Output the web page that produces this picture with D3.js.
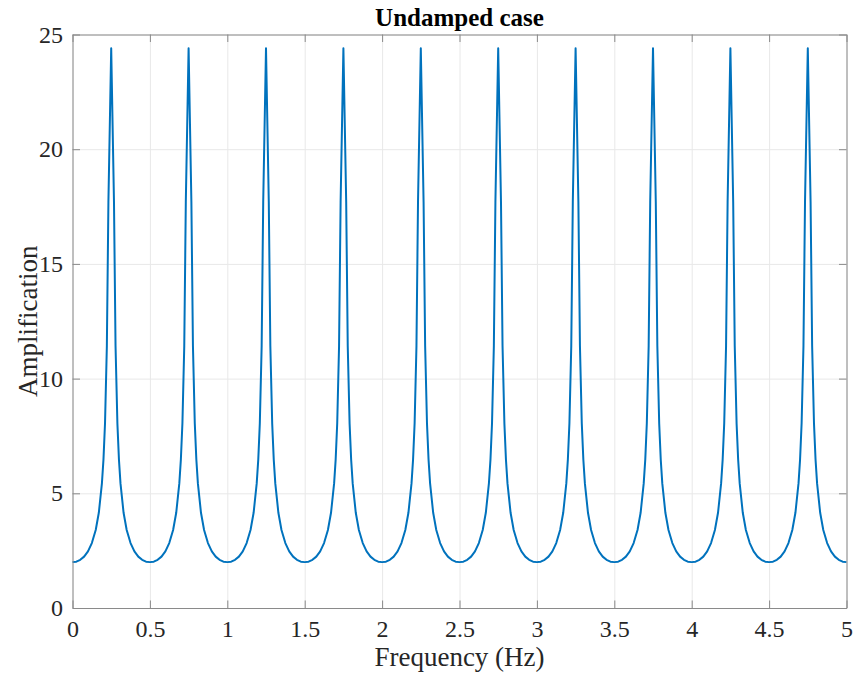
<!DOCTYPE html>
<html>
<head>
<meta charset="utf-8">
<script src="https://cdn.jsdelivr.net/npm/d3@7"></script>
<style>
  body { margin: 0; background: #fff; }
  svg { display: block; font-family: "Times New Roman", "Liberation Serif", serif; }
  .grid line { stroke: #e8e8e8; stroke-width: 1; }
  .grid path { display: none; }
  .axis path, .axis line { stroke: #8a8a8a; stroke-width: 1; }
  .axis text { fill: #262626; font-size: 24px; font-family: "Times New Roman", "Liberation Serif", serif; }
  .axis-label { fill: #262626; font-size: 27px; }
  .title { fill: #000; font-size: 25px; font-weight: bold; }
</style>
</head>
<body>
<svg id="chart"></svg>
<script>
// frequency samples (Hz)
const frequency = [
  0, 0.025, 0.05, 0.075, 0.1, 0.125, 0.15, 0.17, 0.19, 0.2, 0.21, 0.222, 0.232, 0.25, 0.268, 0.278, 0.29, 0.3, 0.31, 0.33, 0.35, 0.375, 0.4, 0.425, 0.45, 0.475,
  0.5, 0.525, 0.55, 0.575, 0.6, 0.625, 0.65, 0.67, 0.69, 0.7, 0.71, 0.722, 0.732, 0.75, 0.768, 0.778, 0.79, 0.8, 0.81, 0.83, 0.85, 0.875, 0.9, 0.925, 0.95, 0.975,
  1, 1.025, 1.05, 1.075, 1.1, 1.125, 1.15, 1.17, 1.19, 1.2, 1.21, 1.222, 1.232, 1.25, 1.268, 1.278, 1.29, 1.3, 1.31, 1.33, 1.35, 1.375, 1.4, 1.425, 1.45, 1.475,
  1.5, 1.525, 1.55, 1.575, 1.6, 1.625, 1.65, 1.67, 1.69, 1.7, 1.71, 1.722, 1.732, 1.75, 1.768, 1.778, 1.79, 1.8, 1.81, 1.83, 1.85, 1.875, 1.9, 1.925, 1.95, 1.975,
  2, 2.025, 2.05, 2.075, 2.1, 2.125, 2.15, 2.17, 2.19, 2.2, 2.21, 2.222, 2.232, 2.25, 2.268, 2.278, 2.29, 2.3, 2.31, 2.33, 2.35, 2.375, 2.4, 2.425, 2.45, 2.475,
  2.5, 2.525, 2.55, 2.575, 2.6, 2.625, 2.65, 2.67, 2.69, 2.7, 2.71, 2.722, 2.732, 2.75, 2.768, 2.778, 2.79, 2.8, 2.81, 2.83, 2.85, 2.875, 2.9, 2.925, 2.95, 2.975,
  3, 3.025, 3.05, 3.075, 3.1, 3.125, 3.15, 3.17, 3.19, 3.2, 3.21, 3.222, 3.232, 3.25, 3.268, 3.278, 3.29, 3.3, 3.31, 3.33, 3.35, 3.375, 3.4, 3.425, 3.45, 3.475,
  3.5, 3.525, 3.55, 3.575, 3.6, 3.625, 3.65, 3.67, 3.69, 3.7, 3.71, 3.722, 3.732, 3.75, 3.768, 3.778, 3.79, 3.8, 3.81, 3.83, 3.85, 3.875, 3.9, 3.925, 3.95, 3.975,
  4, 4.025, 4.05, 4.075, 4.1, 4.125, 4.15, 4.17, 4.19, 4.2, 4.21, 4.222, 4.232, 4.25, 4.268, 4.278, 4.29, 4.3, 4.31, 4.33, 4.35, 4.375, 4.4, 4.425, 4.45, 4.475,
  4.5, 4.525, 4.55, 4.575, 4.6, 4.625, 4.65, 4.67, 4.69, 4.7, 4.71, 4.722, 4.732, 4.75, 4.768, 4.778, 4.79, 4.8, 4.81, 4.83, 4.85, 4.875, 4.9, 4.925, 4.95, 4.975,
  5
];

// amplification at each frequency sample
const amplification = [
  2.00, 2.02, 2.10, 2.24, 2.47, 2.83, 3.40, 4.15, 5.43, 6.47, 8.04, 11.43, 17.7, 24.4, 17.7, 11.43, 8.04, 6.47, 5.43, 4.15, 3.40, 2.83, 2.47, 2.24, 2.10, 2.02,
  2.00, 2.02, 2.10, 2.24, 2.47, 2.83, 3.40, 4.15, 5.43, 6.47, 8.04, 11.43, 17.7, 24.4, 17.7, 11.43, 8.04, 6.47, 5.43, 4.15, 3.40, 2.83, 2.47, 2.24, 2.10, 2.02,
  2.00, 2.02, 2.10, 2.24, 2.47, 2.83, 3.40, 4.15, 5.43, 6.47, 8.04, 11.43, 17.7, 24.4, 17.7, 11.43, 8.04, 6.47, 5.43, 4.15, 3.40, 2.83, 2.47, 2.24, 2.10, 2.02,
  2.00, 2.02, 2.10, 2.24, 2.47, 2.83, 3.40, 4.15, 5.43, 6.47, 8.04, 11.43, 17.7, 24.4, 17.7, 11.43, 8.04, 6.47, 5.43, 4.15, 3.40, 2.83, 2.47, 2.24, 2.10, 2.02,
  2.00, 2.02, 2.10, 2.24, 2.47, 2.83, 3.40, 4.15, 5.43, 6.47, 8.04, 11.43, 17.7, 24.4, 17.7, 11.43, 8.04, 6.47, 5.43, 4.15, 3.40, 2.83, 2.47, 2.24, 2.10, 2.02,
  2.00, 2.02, 2.10, 2.24, 2.47, 2.83, 3.40, 4.15, 5.43, 6.47, 8.04, 11.43, 17.7, 24.4, 17.7, 11.43, 8.04, 6.47, 5.43, 4.15, 3.40, 2.83, 2.47, 2.24, 2.10, 2.02,
  2.00, 2.02, 2.10, 2.24, 2.47, 2.83, 3.40, 4.15, 5.43, 6.47, 8.04, 11.43, 17.7, 24.4, 17.7, 11.43, 8.04, 6.47, 5.43, 4.15, 3.40, 2.83, 2.47, 2.24, 2.10, 2.02,
  2.00, 2.02, 2.10, 2.24, 2.47, 2.83, 3.40, 4.15, 5.43, 6.47, 8.04, 11.43, 17.7, 24.4, 17.7, 11.43, 8.04, 6.47, 5.43, 4.15, 3.40, 2.83, 2.47, 2.24, 2.10, 2.02,
  2.00, 2.02, 2.10, 2.24, 2.47, 2.83, 3.40, 4.15, 5.43, 6.47, 8.04, 11.43, 17.7, 24.4, 17.7, 11.43, 8.04, 6.47, 5.43, 4.15, 3.40, 2.83, 2.47, 2.24, 2.10, 2.02,
  2.00, 2.02, 2.10, 2.24, 2.47, 2.83, 3.40, 4.15, 5.43, 6.47, 8.04, 11.43, 17.7, 24.4, 17.7, 11.43, 8.04, 6.47, 5.43, 4.15, 3.40, 2.83, 2.47, 2.24, 2.10, 2.02,
  2.00
];

const xTicks = [0, 0.5, 1, 1.5, 2, 2.5, 3, 3.5, 4, 4.5, 5];
const yTicks = [0, 5, 10, 15, 20, 25];

const containerWidth = 855, containerHeight = 679;
const margin = { top: 34.5, right: 8.5, bottom: 71, left: 72.5 };
const width = containerWidth - margin.left - margin.right;
const height = containerHeight - margin.top - margin.bottom;

const svg = d3.select('#chart')
    .attr('width', containerWidth)
    .attr('height', containerHeight);

const chart = svg.append('g')
    .attr('transform', `translate(${margin.left},${margin.top})`);

const xScale = d3.scaleLinear().domain([0, 5]).range([0, width]);
const yScale = d3.scaleLinear().domain([0, 25]).range([height, 0]);

// grid
chart.append('g')
    .attr('class', 'grid')
    .attr('transform', `translate(0,${height})`)
    .call(d3.axisBottom(xScale).tickValues(xTicks).tickSize(-height).tickFormat(''));
chart.append('g')
    .attr('class', 'grid')
    .call(d3.axisLeft(yScale).tickValues(yTicks).tickSize(-width).tickFormat(''));

// the curve
const points = frequency.map((f, i) => [f, amplification[i]]);
chart.append('path')
    .datum(points)
    .attr('fill', 'none')
    .attr('stroke', '#0072bd')
    .attr('stroke-width', 2)
    .attr('stroke-linejoin', 'round')
    .attr('d', d3.line().x(d => xScale(d[0])).y(d => yScale(d[1])));

// axes with inward ticks, box on all four sides
const tickLen = 7.5;
chart.append('g')
    .attr('class', 'axis')
    .attr('transform', `translate(0,${height})`)
    .call(d3.axisBottom(xScale).tickValues(xTicks).tickSizeInner(-tickLen).tickSizeOuter(0).tickPadding(12).tickFormat(d3.format('')));
chart.append('g')
    .attr('class', 'axis')
    .call(d3.axisTop(xScale).tickValues(xTicks).tickSizeInner(-tickLen).tickSizeOuter(0).tickFormat(''));
chart.append('g')
    .attr('class', 'axis')
    .call(d3.axisLeft(yScale).tickValues(yTicks).tickSizeInner(-tickLen).tickSizeOuter(0).tickPadding(9.5).tickFormat(d3.format('')));
chart.append('g')
    .attr('class', 'axis')
    .attr('transform', `translate(${width},0)`)
    .call(d3.axisRight(yScale).tickValues(yTicks).tickSizeInner(-tickLen).tickSizeOuter(0).tickFormat(''));

chart.selectAll('.axis text').attr('font-size', null).attr('font-family', null);

// labels
chart.append('text')
    .attr('class', 'axis-label')
    .attr('x', width / 2)
    .attr('y', height + 58)
    .attr('text-anchor', 'middle')
    .text('Frequency (Hz)');

chart.append('text')
    .attr('class', 'axis-label')
    .attr('transform', `translate(${37 - margin.left},${height / 2}) rotate(-90)`)
    .attr('text-anchor', 'middle')
    .text('Amplification');

chart.append('text')
    .attr('class', 'title')
    .attr('x', width / 2)
    .attr('y', -9)
    .attr('text-anchor', 'middle')
    .text('Undamped case');
</script>
</body>
</html>
